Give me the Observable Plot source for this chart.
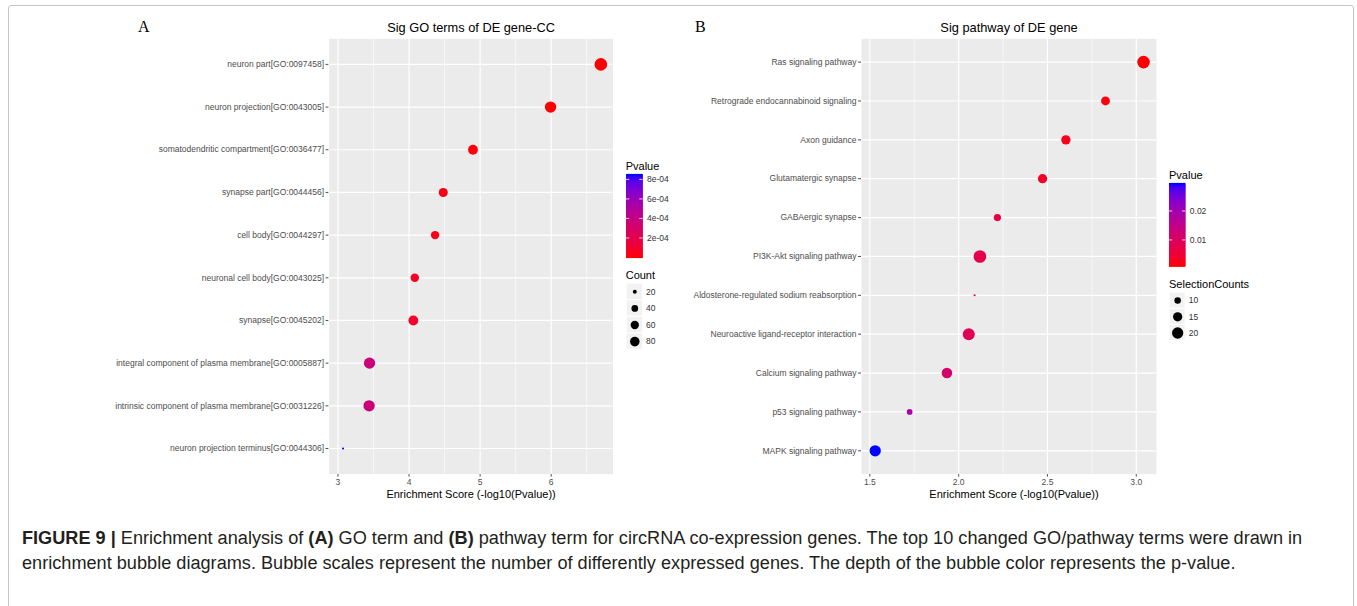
<!DOCTYPE html>
<html><head><meta charset="utf-8">
<script src="https://cdn.jsdelivr.net/npm/d3@7"></script>
<script src="https://cdn.jsdelivr.net/npm/@observablehq/plot@0.6"></script>
<style>
body{margin:0;background:#fff;width:1357px;height:606px;overflow:hidden;position:relative;font-family:"Liberation Sans",Arial,sans-serif;}
.abs{position:absolute;}
.ttl{position:absolute;font-size:11px;color:#000;line-height:1;white-space:nowrap;}
.cap{position:absolute;left:22px;font-size:18.15px;color:#231f20;white-space:nowrap;line-height:1;}
.cap b{font-weight:bold;}
svg{overflow:visible;}
</style></head><body>
<div class="abs" style="left:8px;top:5px;width:1344px;height:660px;border:1px solid #c4c4c4;border-radius:3px;"></div>
<div id="root"></div>
<script>
// ---------------- data ----------------
const termsA = [
  "neuron part[GO:0097458]",
  "neuron projection[GO:0043005]",
  "somatodendritic compartment[GO:0036477]",
  "synapse part[GO:0044456]",
  "cell body[GO:0044297]",
  "neuronal cell body[GO:0043025]",
  "synapse[GO:0045202]",
  "integral component of plasma membrane[GO:0005887]",
  "intrinsic component of plasma membrane[GO:0031226]",
  "neuron projection terminus[GO:0044306]"
];
const pvalueA = [2.0e-7, 1.02e-6, 1.26e-5, 3.3e-5, 4.3e-5, 8.3e-5, 8.7e-5, 3.6e-4, 3.65e-4, 8.5e-4];
const countA  = [142, 115, 84, 72, 62, 62, 85, 112, 114, 16];

const termsB = [
  "Ras signaling pathway",
  "Retrograde endocannabinoid signaling",
  "Axon guidance",
  "Glutamatergic synapse",
  "GABAergic synapse",
  "PI3K-Akt signaling pathway",
  "Aldosterone-regulated sodium reabsorption",
  "Neuroactive ligand-receptor interaction",
  "Calcium signaling pathway",
  "p53 signaling pathway",
  "MAPK signaling pathway"
];
const pvalueB = [9.1e-4, 1.49e-3, 2.49e-3, 3.37e-3, 6.05e-3, 7.59e-3, 8.13e-3, 8.77e-3, 1.164e-2, 1.888e-2, 2.95e-2];
const countB  = [24, 14, 15, 15, 11, 24, 7, 22, 18, 9, 20];

const xTicksA = [3, 4, 5, 6];
const xMinorA = [3.5, 4.5, 5.5, 6.5];
const xTicksB = [1.5, 2.0, 2.5, 3.0];
const xMinorB = [1.75, 2.25, 2.75];
const pTicksA = [2e-4, 4e-4, 6e-4, 8e-4];
const pLabelsA = ["2e-04", "4e-04", "6e-04", "8e-04"];
const pTicksB = [0.01, 0.02];
const pLabelsB = ["0.01", "0.02"];
const countBreaksA = [20, 40, 60, 80];
const countBreaksB = [10, 15, 20];

const titleA = "Sig GO terms of DE gene-CC";
const titleB = "Sig pathway of DE gene";
const xLabel = "Enrichment Score (-log10(Pvalue))";
const caption1 = ["<b>FIGURE 9 |</b> Enrichment analysis of <b>(A)</b> GO term and <b>(B)</b> pathway term for circRNA co-expression genes. The top 10 changed GO/pathway terms were drawn in"];
const caption2 = ["enrichment bubble diagrams. Bubble scales represent the number of differently expressed genes. The depth of the bubble color represents the p-value."];

// ---------------- helpers ----------------
const FONT = '"Liberation Sans", Arial, sans-serif';
const root = document.getElementById("root");
function place(node, left, top) {
  const d = document.createElement("div");
  d.className = "abs"; d.style.left = left + "px"; d.style.top = top + "px";
  d.appendChild(node); root.appendChild(d); return d;
}
function html(s, cls, left, top, extra) {
  const d = document.createElement("div");
  d.className = cls; d.innerHTML = s; d.style.left = left + "px"; d.style.top = top + "px";
  if (extra) Object.assign(d.style, extra);
  root.appendChild(d); return d;
}
function colorScale(p) {
  return {type: "linear", domain: d3.extent(p), range: ["red", "blue"], interpolate: d3.interpolateLab};
}
function sizeScale(c, a) {
  const [lo, hi] = d3.extent(c);
  return {scale: {type: "sqrt", domain: [0, hi - lo], range: [a, 6 * a]}, lo};
}

function panel(o) {
  const data = o.terms.map((t, i) => ({term: t, p: o.p[i], count: o.c[i], score: -Math.log10(o.p[i])}));
  return Plot.plot({
    width: o.width, height: 510,
    marginLeft: o.ml, marginRight: o.mr, marginTop: 38.3, marginBottom: 36.4,
    style: {fontFamily: FONT, fontSize: "8.5px", color: "#4D4D4D", background: "transparent", overflow: "visible"},
    x: {domain: o.xDomain, ticks: o.xTicks, tickFormat: o.xFmt, tickSize: 3, tickPadding: 2, label: null},
    y: {type: "point", domain: o.terms, padding: 0.6, round: false, tickSize: 3, tickPadding: 2, label: null},
    color: o.color, r: o.size.scale,
    marks: [
      Plot.frame({fill: "#EBEBEB", stroke: "none"}),
      Plot.ruleX(o.xMinor, {stroke: "white", strokeWidth: 0.6}),
      Plot.ruleX(o.xTicks, {stroke: "white", strokeWidth: 1.2}),
      Plot.ruleY(o.terms, {stroke: "white", strokeWidth: 1.2}),
      Plot.dot(data, {x: "score", y: "term", r: d => d.count - o.size.lo, fill: "p", stroke: "none"}),
      Plot.text([o.title], {text: d => d, frameAnchor: "top", lineAnchor: "middle", dy: -11, fontSize: 12.8, fill: "#000"}),
      Plot.text([xLabel], {text: d => d, frameAnchor: "bottom", lineAnchor: "middle", dy: 20.4, dx: o.xlDx || 0, fontSize: 11, fill: "#000"})
    ]
  });
}

function colorBar(color, ticks, labels, w, h) {
  const [lo, hi] = color.domain;
  const samples = d3.range(0, 241).map(i => lo + (hi - lo) * i / 240);
  return Plot.plot({
    width: w + 40, height: h, marginTop: 0, marginBottom: 0, marginLeft: 0, marginRight: 40,
    style: {fontFamily: FONT, background: "transparent", overflow: "visible"},
    x: {domain: [0, 1], axis: null}, y: {domain: [lo, hi], axis: null}, color,
    marks: [
      Plot.ruleY(samples, {y: d => d, x1: 0, x2: 1, stroke: d => d, strokeWidth: 1.2}),
      Plot.ruleY(ticks, {y: d => d, x1: 0, x2: 0.2, stroke: "white", strokeWidth: 0.8}),
      Plot.ruleY(ticks, {y: d => d, x1: 0.8, x2: 1, stroke: "white", strokeWidth: 0.8}),
      Plot.text(ticks, {y: d => d, x: 1, dx: 4, text: (d, i) => labels[i], textAnchor: "start", fontSize: 8.5, fill: "#333"})
    ]
  });
}

function sizeLegend(size, breaks, keyW, keyH) {
  return Plot.plot({
    width: keyW + 30, height: keyH * breaks.length, marginTop: 0, marginBottom: 0, marginLeft: 0, marginRight: 30,
    style: {fontFamily: FONT, background: "transparent", overflow: "visible"},
    x: {type: "band", domain: [0], padding: 0, round: false, axis: null},
    y: {type: "band", domain: breaks, padding: 0, round: false, axis: null},
    r: size.scale,
    marks: [
      Plot.cell(breaks, {x: () => 0, y: d => d, fill: "#F2F2F2", inset: 0.6}),
      Plot.dot(breaks, {x: () => 0, y: d => d, r: d => d - size.lo, fill: "black", stroke: "none"}),
      Plot.text(breaks, {x: () => 0, y: d => d, text: d => String(d), dx: keyW / 2 + 3, textAnchor: "start", fontSize: 8.5, fill: "#333"})
    ]
  });
}

// ---------------- panel A ----------------
const colA = colorScale(pvalueA);
const sizeA = sizeScale(countA, 1.05);
place(panel({terms: termsA, p: pvalueA, c: countA, width: 620, ml: 328.6, mr: 7.5,
  xDomain: [2.875, 6.87], xTicks: xTicksA, xMinor: xMinorA, xFmt: d3.format("d"),
  title: titleA, color: colA, size: sizeA}), 0, 0);

// ---------------- panel B ----------------
const colB = colorScale(pvalueB);
const sizeB = sizeScale(countB, 1.05);
place(panel({terms: termsB, p: pvalueB, c: countB, width: 504, ml: 201, mr: 8,
  xDomain: [1.453, 3.114], xTicks: xTicksB, xMinor: xMinorB, xFmt: d3.format(".1f"),
  title: titleB, color: colB, size: sizeB, xlDx: 5}), 660, 0);

// ---------------- legends ----------------
html("Pvalue", "ttl", 625.7, 161);
place(colorBar(colA, pTicksA, pLabelsA, 16.6, 83), 625.7, 174.3);
html("Count", "ttl", 625.7, 270);
place(sizeLegend(sizeA, countBreaksA, 16.6, 16.6), 625.7, 283);

html("Pvalue", "ttl", 1169, 169.5);
place(colorBar(colB, pTicksB, pLabelsB, 16.3, 82.7), 1169, 183.3);
html("SelectionCounts", "ttl", 1169, 278.5);
place(sizeLegend(sizeB, countBreaksB, 16.3, 16.2), 1169, 292);

// ---------------- panel letters & caption ----------------
html("A", "abs", 138, 19, {fontFamily: '"Liberation Serif", "Times New Roman", serif', fontSize: "16px", color: "#000", lineHeight: "1"});
html("B", "abs", 695, 19, {fontFamily: '"Liberation Serif", "Times New Roman", serif', fontSize: "16px", color: "#000", lineHeight: "1"});
html(caption1[0], "cap", 22, 529);
html(caption2[0], "cap", 22, 554);
</script>
</body></html>
